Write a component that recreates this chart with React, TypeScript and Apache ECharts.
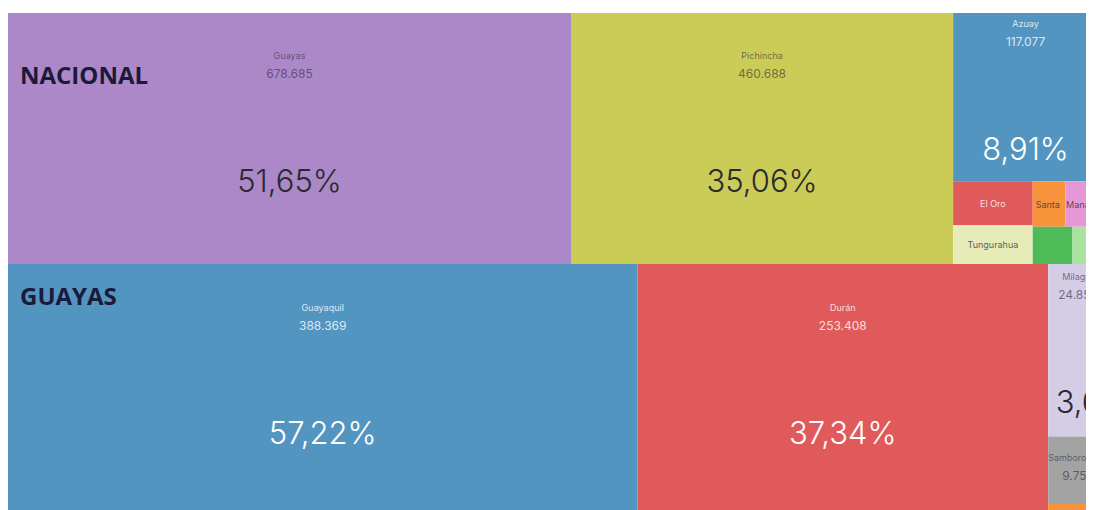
import React, { useEffect, useRef } from 'react';
import * as echarts from 'echarts';

const titles = ['NACIONAL', 'GUAYAS'];

const nationalNames = ['Guayas', 'Pichincha', 'Azuay', 'El Oro', 'Tungurahua', 'Santa Elena', 'Manabí', 'Los Ríos', 'Chimborazo', 'Otros'];
const nationalValues = [678685, 460688, 117077, 16840, 14780, 7160, 7130, 7100, 2370, 2178];
const nationalColors = ['#ad88c9', '#cbcb57', '#5395c1', '#e05a5b', '#e6ebb8', '#f7943b', '#e597d6', '#4fbb58', '#a8e29c', '#c9b8a8'];
const nationalKinds = ['full', 'full', 'full', 'name', 'name', 'name', 'name', 'none', 'none', 'none'];
const nationalDark = [true, true, false, false, true, true, true, true, true, true];

const guayasNames = ['Guayaquil', 'Durán', 'Milagro', 'Samborondón', 'Daule'];
const guayasValues = [388369, 253408, 24856, 9752, 2300];
const guayasColors = ['#5395c1', '#e05a5b', '#d5cce6', '#a3a3a3', '#f7943b'];
const guayasKinds = ['full', 'full', 'full', 'nameValue', 'none'];
const guayasDark = [false, false, true, true, true];

const FONT = 'Inter, "Open Sans", sans-serif';

const fmtInt = (v: number) => Math.round(v).toString().replace(/\B(?=(\d{3})+(?!\d))/g, '.');
const fmtPct = (v: number, total: number) => ((v / total) * 100).toFixed(2).replace('.', ',') + '%';

function buildData(names: string[], values: number[], colors: string[], kinds: string[], dark: boolean[]) {
  const total = values.reduce((a, b) => a + b, 0);
  return names.map((name, i) => {
    const soft = dark[i] ? 'rgba(45,40,55,0.6)' : 'rgba(255,255,255,0.8)';
    const strong = dark[i] ? '#2a2a2e' : '#ffffff';
    const kind = kinds[i];
    let formatter = '';
    if (kind === 'full') {
      formatter = `{name|${name}}\n{val|${fmtInt(values[i])}}\n{sp| }\n{pct|${fmtPct(values[i], total)}}`;
    } else if (kind === 'nameValue') {
      formatter = `{name|${name}}\n{val|${fmtInt(values[i])}}`;
    } else if (kind === 'name') {
      formatter = `{name|${name}}`;
    }
    return {
      name,
      value: values[i],
      itemStyle: { color: colors[i] },
      label: {
        show: kind !== 'none',
        position: 'inside',
        overflow: 'truncate',
        ellipsis: '',
        formatter,
        padding: 0,
        rich: {
          name: { fontSize: 9, lineHeight: 18, color: kind === 'name' ? (dark[i] ? 'rgba(45,40,55,0.75)' : 'rgba(255,255,255,0.85)') : soft, fontFamily: FONT },
          val: { fontSize: 12, lineHeight: 18, color: soft, fontFamily: FONT },
          sp: { fontSize: 10, lineHeight: 78 },
          pct: { fontSize: 31, lineHeight: 40, color: strong, fontFamily: FONT, fontWeight: 300 },
        },
      },
    };
  });
}

function labelLayout(p: any) {
  const h = p.rect.height;
  const t: string = p.text || '';
  let dy = 0;
  if (t.indexOf('{pct|') >= 0) dy = Math.max(0, 0.381 * h - 62.6);
  else if (t.indexOf('{val|') >= 0) dy = Math.max(0, (h - 36) / 2 - 4);
  else dy = Math.max(0, (h - 18) / 2);
  return { dy };
}

export default function App() {
  const ref = useRef<HTMLDivElement>(null);
  useEffect(() => {
    if (!ref.current) return;
    const chart = echarts.init(ref.current, null, { renderer: 'svg' });
    const common = {
      type: 'treemap',
      roam: false,
      nodeClick: false,
      breadcrumb: { show: false },
      left: 0,
      itemStyle: { borderWidth: 0, gapWidth: 0 },
      label: { show: true },
      labelLayout,
    };
    chart.setOption({
      animation: false,
      tooltip: { show: false },
      series: [
        {
          ...common,
          top: 5,
          width: 1090,
          height: 251,
          data: buildData(nationalNames, nationalValues, nationalColors, nationalKinds, nationalDark),
        },
        {
          ...common,
          top: 256,
          width: 1100,
          height: 256,
          data: buildData(guayasNames, guayasValues, guayasColors, guayasKinds, guayasDark),
        },
      ],
      graphic: [
        {
          type: 'text',
          left: 12,
          top: 54,
          z: 100,
          style: { text: titles[0], font: 'bold 24px "Open Sans", sans-serif', fill: '#1b1a3a' },
        },
        {
          type: 'text',
          left: 12,
          top: 275,
          z: 100,
          style: { text: titles[1], font: 'bold 24px "Open Sans", sans-serif', fill: '#1b1a3a' },
        },
      ],
    });
    return () => chart.dispose();
  }, []);
  return (
    <div style={{ width: 1086, height: 502, overflow: 'hidden' }}>
      <div ref={ref} style={{ width: 1100, height: 520 }} />
    </div>
  );
}
